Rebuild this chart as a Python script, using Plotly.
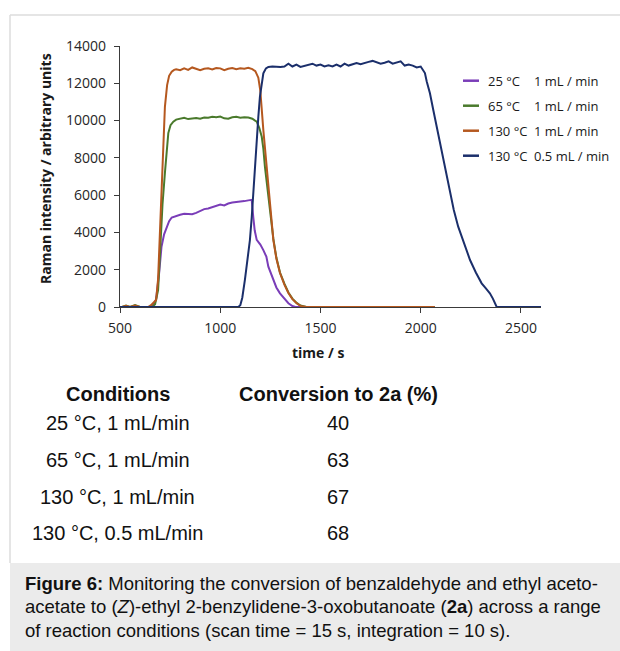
import plotly.graph_objects as go

# ---- Raman intensity traces (time in s, intensity in arbitrary units) ----
t_25C = [510, 640, 650, 665, 680, 695, 707, 720, 733, 745, 758, 780, 800, 820, 840, 860,
         880, 900, 920, 940, 960, 980, 1000, 1020, 1040, 1060, 1080, 1100, 1120, 1140,
         1157, 1165, 1172, 1182, 1200, 1215, 1230, 1240, 1252, 1265, 1280, 1298, 1320,
         1340, 1360, 1375, 2070]
v_25C = [0, 0, 0, 100, 400, 1800, 3235, 3900, 4310, 4600, 4800, 4900, 4950, 5000, 5000,
         4980, 5050, 5150, 5250, 5280, 5350, 5450, 5500, 5450, 5550, 5600, 5620, 5680,
         5680, 5720, 5750, 4800, 4100, 3600, 3350, 3050, 2700, 2160, 1800, 1450, 1050,
         735, 420, 200, 50, 0, 0]

t_65C = [510, 530, 550, 575, 600, 660, 675, 690, 703, 712, 724, 733, 741, 752, 766, 780,
         800, 820, 840, 860, 880, 900, 920, 940, 960, 980, 1000, 1020, 1040, 1060, 1080,
         1100, 1120, 1140, 1160, 1182, 1195, 1207, 1215, 1223, 1232, 1240, 1252, 1265,
         1280, 1298, 1320, 1340, 1360, 1381, 1400, 1430, 2070]
v_65C = [0, 80, 0, 100, 0, 0, 150, 900, 3590, 5500, 7190, 8500, 9330, 9750, 9940, 10050,
         10100, 10150, 10080, 10120, 10140, 10100, 10160, 10150, 10200, 10180, 10220,
         10120, 10100, 10180, 10200, 10150, 10180, 10160, 10100, 9940, 9600, 9130, 8500,
         7520, 6700, 6000, 4800, 3650, 2650, 1850, 1250, 780, 450, 220, 80, 0, 0]

t_130C = [510, 530, 550, 575, 600, 640, 655, 670, 680, 690, 700, 708, 716, 724, 735, 745,
          758, 770, 780, 800, 820, 840, 860, 880, 900, 920, 940, 960, 980, 1000, 1020,
          1040, 1060, 1080, 1100, 1120, 1140, 1160, 1175, 1190, 1200, 1215, 1228, 1240,
          1252, 1265, 1280, 1298, 1320, 1340, 1360, 1381, 1400, 1430, 2070]
v_130C = [0, 60, 0, 80, 0, 0, 100, 250, 375, 1500, 4200, 7190, 9300, 10740, 11900, 12400,
          12620, 12720, 12750, 12700, 12800, 12720, 12850, 12760, 12700, 12780, 12800,
          12740, 12820, 12800, 12700, 12780, 12820, 12760, 12800, 12780, 12830, 12760,
          12650, 12300, 11600, 9490, 7900, 6275, 4900, 3590, 2600, 1820, 1200, 750, 420,
          200, 60, 0, 0]

t_130C_half = [500, 1090, 1100, 1110, 1123, 1135, 1148, 1157, 1165, 1173, 1182, 1190, 1198,
               1207, 1215, 1228, 1240, 1260, 1280, 1300, 1320, 1340, 1360, 1380, 1400,
               1420, 1440, 1460, 1480, 1500, 1520, 1540, 1560, 1580, 1600, 1620, 1640,
               1660, 1680, 1700, 1720, 1740, 1760, 1780, 1800, 1820, 1840, 1860, 1880,
               1900, 1920, 1940, 1960, 1980, 2000, 2010, 2021, 2030, 2046, 2063, 2080,
               2096, 2112, 2130, 2146, 2165, 2187, 2215, 2246, 2275, 2304, 2325, 2345,
               2360, 2379, 2600]
v_130C_half = [0, 0, 100, 500, 1450, 2500, 3590, 4800, 6275, 7600, 8960, 10200, 11280,
               12100, 12530, 12800, 12880, 12900, 12880, 12870, 12900, 13050, 12900, 13000,
               12880, 12950, 12980, 13050, 12950, 13000, 12900, 12960, 12900, 13000, 12900,
               13050, 12950, 13000, 13080, 13020, 13100, 13150, 13200, 13120, 13050, 13100,
               13180, 13050, 13120, 13180, 12950, 13000, 12950, 12850, 12900, 12700, 12550,
               12100, 11460, 10550, 9670, 8750, 7885, 7000, 6100, 5200, 4310, 3400, 2520,
               1850, 1270, 1000, 735, 450, 0, 0]

series_temps = ["25 °C", "65 °C", "130 °C", "130 °C"]
series_flows = ["1 mL / min", "1 mL / min", "1 mL / min", "0.5 mL / min"]
series_colors = ["#7a3db8", "#4a7a2c", "#b5581f", "#1b2f6b"]

x_ticks = [500, 1000, 1500, 2000, 2500]
y_ticks = [0, 2000, 4000, 6000, 8000, 10000, 12000, 14000]

# ---- Conversion table ----
conditions = ["25 °C, 1 mL/min", "65 °C, 1 mL/min", "130 °C, 1 mL/min", "130 °C, 0.5 mL/min"]
conversions = [40, 63, 67, 68]

W, H = 620, 651


def px(x):
    return x / W


def py(y):
    return 1 - y / H


series_t = [t_25C, t_65C, t_130C, t_130C_half]
series_v = [v_25C, v_65C, v_130C, v_130C_half]

fig = go.Figure()
for t, v, temp, flow, c in zip(series_t, series_v, series_temps, series_flows, series_colors):
    fig.add_trace(go.Scatter(x=t, y=v, mode="lines", name=f"{temp} {flow}",
                             line=dict(color=c, width=2), showlegend=False))

axis_color = "#3a3a3a"
tick_font = dict(family="Open Sans", size=14, color="#262626")

fig.update_layout(
    width=W, height=H,
    margin=dict(l=0, r=0, t=0, b=0),
    paper_bgcolor="white", plot_bgcolor="white",
    xaxis=dict(domain=[px(120), px(541)], range=[500, 2600], tickvals=x_ticks,
               tickformat="d", ticklabelstandoff=3,
               showline=True, linecolor=axis_color, linewidth=1.4, ticks="outside",
               ticklen=5, tickwidth=1.3, tickcolor=axis_color, showgrid=False,
               zeroline=False, tickfont=tick_font, automargin=False),
    yaxis=dict(domain=[py(307), py(46)], range=[0, 14000], tickvals=y_ticks,
               tickformat="d", ticklabelstandoff=5,
               showline=True, linecolor=axis_color, linewidth=1.4, ticks="outside",
               ticklen=5, tickwidth=1.3, tickcolor=axis_color, showgrid=False,
               zeroline=False, tickfont=tick_font, automargin=False),
)

shapes = [
    # light frame around the chart panel
    dict(type="line", xref="paper", yref="paper", x0=px(10), x1=1, y0=py(15), y1=py(15),
         line=dict(color="#dcdcdc", width=1.5)),
    dict(type="line", xref="paper", yref="paper", x0=px(10), x1=px(10), y0=py(15), y1=py(563),
         line=dict(color="#dcdcdc", width=1.5)),
    # caption panel
    dict(type="rect", xref="paper", yref="paper", x0=px(10), x1=1, y0=0, y1=py(563),
         fillcolor="#ebebeb", line=dict(width=0), layer="below"),
]


def label(text, x, y, font, xanchor="center", **kw):
    return dict(text=text, xref="paper", yref="paper", x=px(x), y=py(y),
                xanchor=xanchor, yanchor="middle", showarrow=False, font=font, **kw)


title_font = dict(family="Open Sans", size=14, color="#1a1a1a")
annotations = [
    label("<b>Raman intensity / arbitrary units</b>", 45, 169, title_font, textangle=-90),
    label("<b>time / s</b>", 318, 353, title_font),
]

# legend: coloured segment, temperature, flow rate
legend_rows = [80.7, 105.7, 130.7, 155.7]
legend_font = dict(family="Open Sans", size=13, color="#1a1a1a")
for row, temp, flow, c in zip(legend_rows, series_temps, series_flows, series_colors):
    shapes.append(dict(type="line", xref="paper", yref="paper", x0=px(463), x1=px(479),
                       y0=py(row), y1=py(row), line=dict(color=c, width=2.5)))
    annotations.append(label(temp, 486, row, legend_font, xanchor="left"))
    annotations.append(label(flow, 532, row, legend_font, xanchor="left"))

# conversion table
table_font = dict(family="Liberation Sans", size=20, color="#111111")
annotations.append(label("<b>Conditions</b>", 118, 394, table_font))
annotations.append(label("<b>Conversion to 2a (%)</b>", 338, 394, table_font))
table_rows = [423.3, 460, 496.7, 533.3]
for row, cond, conv in zip(table_rows, conditions, conversions):
    annotations.append(label(cond, 118, row, table_font))
    annotations.append(label(str(conv), 338, row, table_font))

# caption
caption_lines = [
    "<b>Figure 6:</b> Monitoring the conversion of benzaldehyde and ethyl aceto-",
    "acetate to (<i>Z</i>)-ethyl 2-benzylidene-3-oxobutanoate (<b>2a</b>) across a range",
    "of reaction conditions (scan time = 15 s, integration = 10 s).",
]
caption_font = dict(family="Liberation Sans", size=18.5, color="#111111")
for row, line in zip([583, 606.5, 630], caption_lines):
    annotations.append(label(line, 23, row, caption_font, xanchor="left"))

fig.update_layout(shapes=shapes, annotations=annotations)
fig.write_html("out.html")
